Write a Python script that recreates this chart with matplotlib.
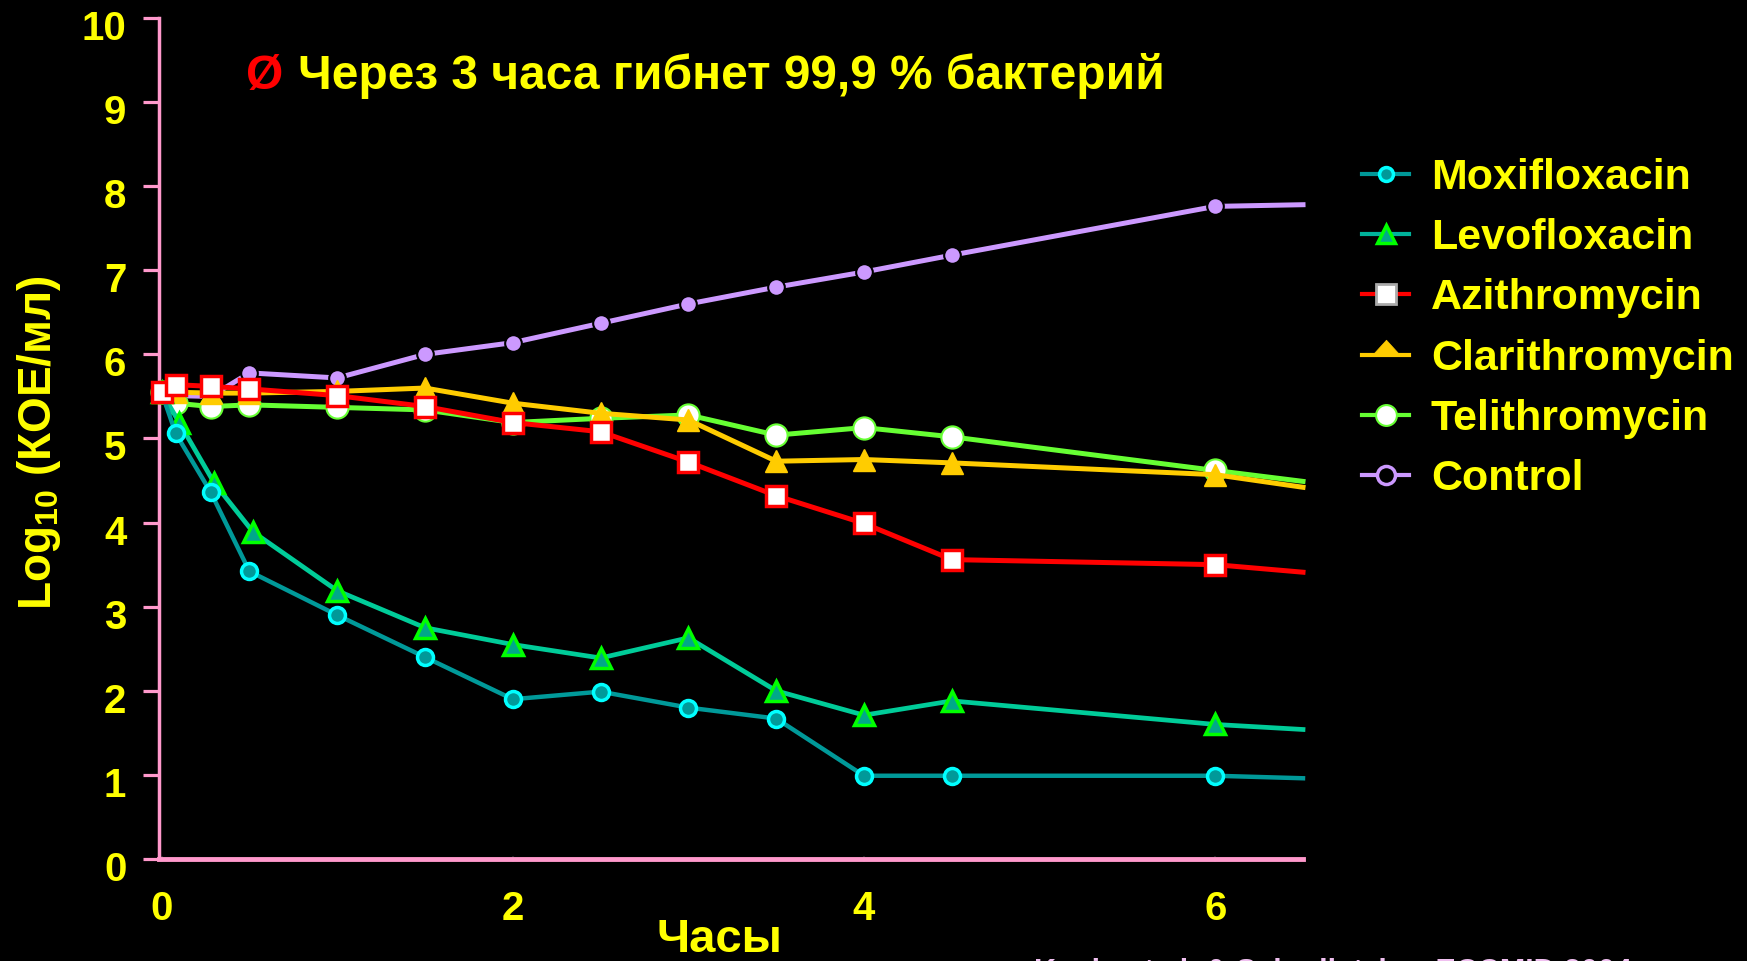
import matplotlib
matplotlib.use("Agg")
import matplotlib.pyplot as plt
from matplotlib.lines import Line2D
from matplotlib.path import Path
from matplotlib.markers import MarkerStyle
from matplotlib.transforms import ScaledTranslation

plt.rcParams['font.family'] = ['Liberation Sans', 'DejaVu Sans']
plt.rcParams['font.weight'] = 'bold'
plt.rcParams['mathtext.fontset'] = 'custom'
plt.rcParams['mathtext.rm'] = 'Liberation Sans:bold'
plt.rcParams['mathtext.bf'] = 'Liberation Sans:bold'
plt.rcParams['mathtext.default'] = 'rm'

# ---- data ----
hours = [0, 0.08, 0.28, 0.5, 1, 1.5, 2, 2.5, 3, 3.5, 4, 4.5, 6, 6.5]
hours_levo = [0, 0.1, 0.3, 0.52, 1, 1.5, 2, 2.5, 3, 3.5, 4, 4.5, 6, 6.5]
moxifloxacin = [5.55, 5.06, 4.36, 3.42, 2.90, 2.40, 1.90, 1.99, 1.80, 1.67, 0.99, 0.99, 0.99, 0.96]
levofloxacin = [5.55, 5.19, 4.47, 3.89, 3.19, 2.75, 2.55, 2.39, 2.63, 2.00, 1.71, 1.88, 1.60, 1.54]
azithromycin = [5.55, 5.64, 5.62, 5.59, 5.51, 5.38, 5.19, 5.08, 4.72, 4.32, 3.99, 3.56, 3.50, 3.41]
clarithromycin = [5.55, 5.55, 5.54, 5.54, 5.56, 5.60, 5.42, 5.30, 5.22, 4.73, 4.75, 4.71, 4.57, 4.42]
telithromycin = [5.55, 5.42, 5.38, 5.40, 5.37, 5.34, 5.19, 5.24, 5.28, 5.04, 5.13, 5.02, 4.62, 4.49]
control = [5.55, 5.51, 5.50, 5.78, 5.72, 6.00, 6.14, 6.37, 6.60, 6.80, 6.98, 7.18, 7.76, 7.78]

series_names = ['Moxifloxacin', 'Levofloxacin', 'Azithromycin',
                'Clarithromycin', 'Telithromycin', 'Control']
x_ticks = [0, 2, 4, 6]
y_ticks = [0, 1, 2, 3, 4, 5, 6, 7, 8, 9, 10]

title_text = 'Через 3 часа гибнет 99,9 % бактерий'
xlabel_text = 'Часы'
ylabel_text = 'Log$_{10}$ (КОЕ/мл)'
source_text = 'Kenig et al. & Schedletzky,  ECCMID 2004'

# ---- figure ----
W, H = 1747, 961
fig = plt.figure(figsize=(W / 100, H / 100), dpi=100, facecolor='black')
ax = fig.add_axes([159 / W, 1 - 859 / H, (1303 - 159) / W, (859 - 18) / H])
ax.set_facecolor('black')

pink = '#FF99CC'
yellow = '#FFFF00'
mark_idx = list(range(len(hours) - 1))

ax.plot(hours, control, color='#CC99FF', lw=3.6, marker='o', ms=12,
        mfc='#CC99FF', mec='black', mew=1.5, markevery=mark_idx, zorder=3, clip_on=False)
ax.plot(hours, telithromycin, color='#66FF33', lw=3.6, marker='o', ms=16,
        mfc='white', mec='#66FF33', mew=1.5, markevery=mark_idx, zorder=4, clip_on=False)
ax.plot(hours, clarithromycin, color='#FFCC00', lw=3.6, marker='^', ms=16,
        mfc='#FFCC00', mec='#FFCC00', mew=1, markevery=mark_idx, zorder=5, clip_on=False)
ax.plot(hours, azithromycin, color='#FF0000', lw=3.6, marker='s', ms=15,
        mfc='white', mec='#FF0000', mew=2.5, markevery=mark_idx, zorder=6, clip_on=False)
ax.plot(hours_levo, levofloxacin, color='#00CC99', lw=3.4, marker='^', ms=14,
        mfc='#00A88A', mec='#00FF00', mew=2.5, markevery=mark_idx, zorder=5, clip_on=False)
ax.plot(hours, moxifloxacin, color='#009999', lw=3.2, marker='o', ms=11.5,
        mfc='#009999', mec='#00FFFF', mew=2.5, markevery=mark_idx, zorder=5, clip_on=False)

ax.set_xlim(-0.015, 6.5)
ax.set_ylim(0, 10)
for s in ['top', 'right']:
    ax.spines[s].set_visible(False)
for s in ['left', 'bottom']:
    ax.spines[s].set_color(pink)
ax.spines['left'].set_linewidth(2.5)
ax.spines['bottom'].set_linewidth(3.5)

ax.set_xticks(x_ticks)
ax.set_xticklabels([str(v) for v in x_ticks])
ax.set_yticks(y_ticks)
ax.set_yticklabels([str(v) for v in y_ticks])
ax.tick_params(axis='y', direction='out', length=11.5, width=2.3, color=pink,
               labelcolor=yellow, labelsize=29, pad=12)
ax.tick_params(axis='x', direction='inout', length=4, width=1.5, color='#222222',
               labelcolor=yellow, labelsize=29, pad=20)
for lbl in ax.get_yticklabels():
    lbl.set_fontweight('bold')
    lbl.set_transform(lbl.get_transform() + ScaledTranslation(0, -7 / 100, fig.dpi_scale_trans))
for lbl in ax.get_xticklabels():
    lbl.set_fontweight('bold')

# title line
fig.text(246 / W, 1 - 76 / H, 'Ø', color='#FF0000', fontsize=34.5, fontweight='bold',
         ha='left', va='center')
fig.text(298 / W, 1 - 76 / H, title_text, color=yellow, fontsize=34.5, fontweight='bold',
         ha='left', va='center')

# axis labels
fig.text(39 / W, 1 - 443 / H, ylabel_text, color=yellow, fontsize=33, fontweight='bold',
         rotation=90, ha='center', va='center')
fig.text(719 / W, 1 - 940 / H, xlabel_text, color=yellow, fontsize=34, fontweight='bold',
         ha='center', va='center')

# source (cut off at bottom, as in the reference)
fig.text(1034 / W, 1 - 958 / H, source_text, color='#F0C0F0', fontsize=22,
         fontweight='bold', ha='left', va='top')

# legend
tri_up = MarkerStyle(Path([(-1, 0), (1, 0), (0, 1.1), (-1, 0)], closed=True))
handles = [
    Line2D([], [], color='#009999', lw=3, marker='o', ms=10, mfc='#009999', mec='#00FFFF', mew=2.5),
    Line2D([], [], color='#00B39B', lw=3, marker='^', ms=13, mfc='#00A88A', mec='#00FF00', mew=2.5),
    Line2D([], [], color='#FF0000', lw=3, marker='s', ms=15, mfc='white', mec='#AAAAAA', mew=2),
    Line2D([], [], color='#FFCC00', lw=3, marker=tri_up, ms=22, mfc='#FFCC00', mec='#FFCC00', mew=0.5),
    Line2D([], [], color='#66FF33', lw=3, marker='o', ms=15, mfc='white', mec='#66FF33', mew=1.5),
    Line2D([], [], color='#CC99FF', lw=3, marker='o', ms=13, mfc='black', mec='#CC99FF', mew=2.5),
]
leg = fig.legend(handles, series_names, loc='upper left',
                 bbox_to_anchor=(1362 / W, 1 - 158 / H), frameon=False,
                 prop={'family': 'Liberation Sans', 'weight': 'bold', 'size': 31},
                 handlelength=1.1, handletextpad=0.5, labelspacing=0.47,
                 borderpad=0, borderaxespad=0)
for t in leg.get_texts():
    t.set_color(yellow)

fig.savefig('out.png', dpi=100, facecolor='black')
